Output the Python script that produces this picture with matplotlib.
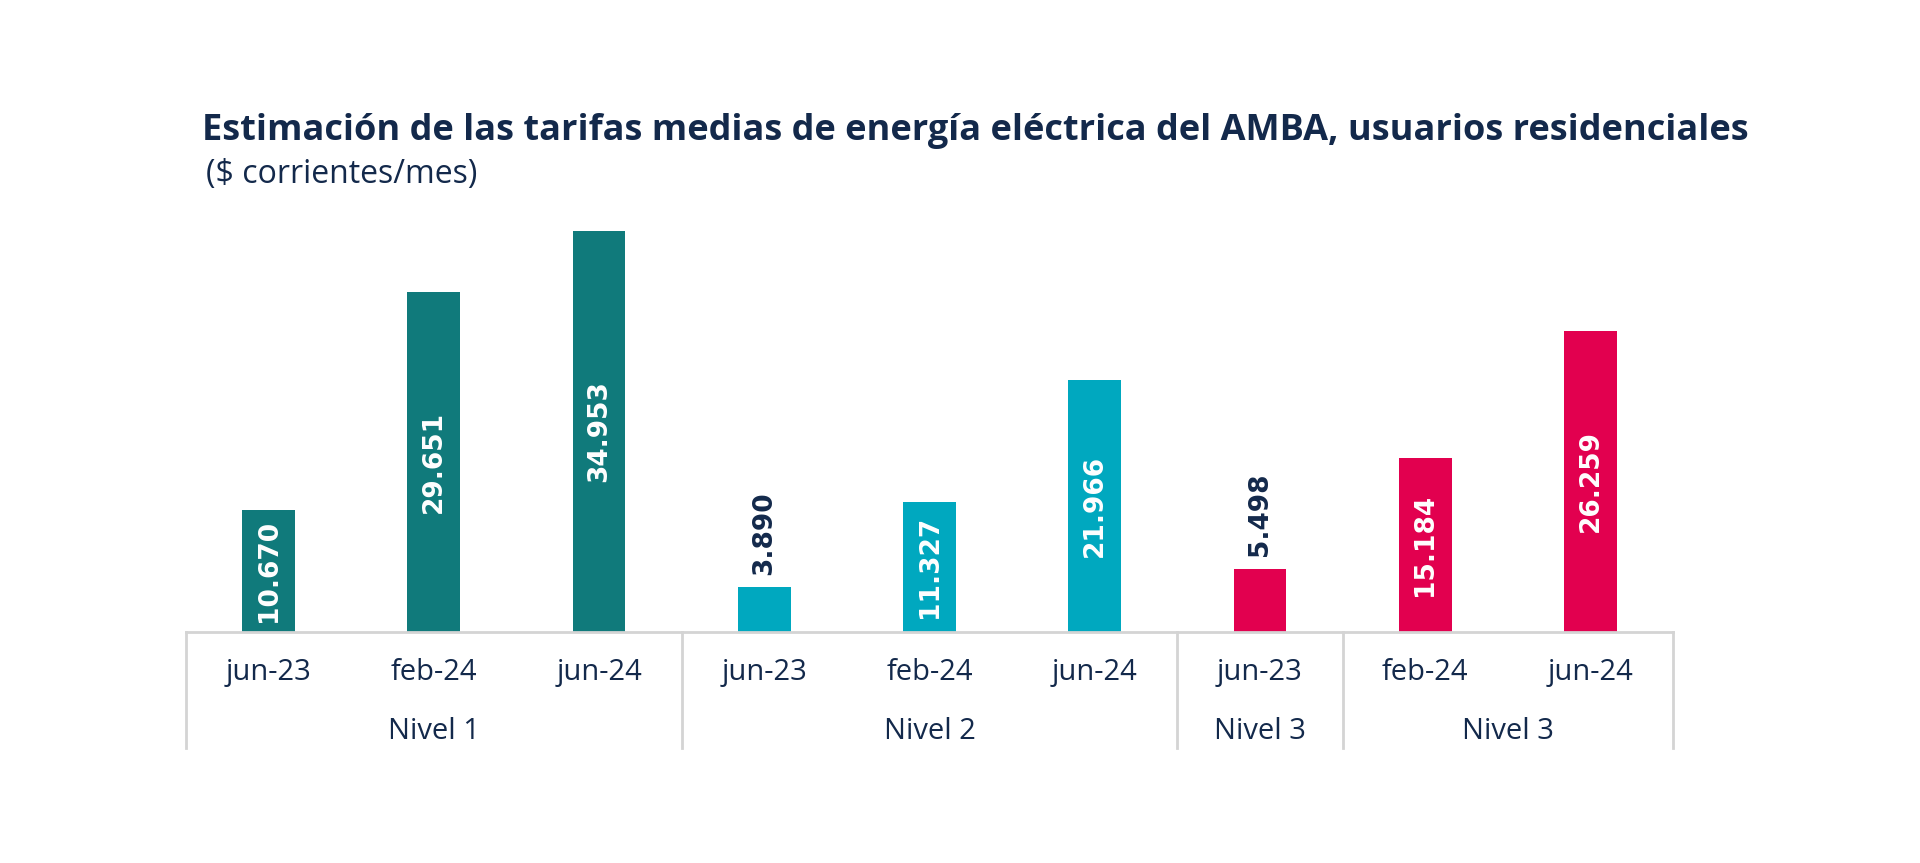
import matplotlib.pyplot as plt
import matplotlib.transforms as mtransforms

months = ["jun-23", "feb-24", "jun-24", "jun-23", "feb-24", "jun-24", "jun-23", "feb-24", "jun-24"]
values = [10670, 29651, 34953, 3890, 11327, 21966, 5498, 15184, 26259]
levels = ["Nivel 1", "Nivel 1", "Nivel 1", "Nivel 2", "Nivel 2", "Nivel 2", "Nivel 3", "Nivel 3", "Nivel 3"]
# group spans on the category axis (first index, last index, label)
groups = [(0, 2, "Nivel 1"), (3, 5, "Nivel 2"), (6, 6, "Nivel 3"), (7, 8, "Nivel 3")]

level_colors = {"Nivel 1": "#107a7b", "Nivel 2": "#00a8bf", "Nivel 3": "#e2004f"}
navy = "#13294b"
grid_gray = "#d4d4d4"

W, H = 1920, 863
fig = plt.figure(figsize=(W / 100, H / 100), dpi=100)
fig.patch.set_facecolor("white")

x0, x1, ybase, ytop = 186, 1673, 632, 196
ax = fig.add_axes([x0 / W, (H - ybase) / H, (x1 - x0) / W, (ybase - ytop) / H])
ax.set_xlim(-0.5, len(values) - 0.5)
ax.set_ylim(0, 38000)

xs = list(range(len(values)))
colors = [level_colors[l] for l in levels]
ax.bar(xs, values, width=0.32, color=colors, zorder=2)

for x, v in zip(xs, values):
    lab = f"{v:,}".replace(",", ".")
    if v < 8000:
        ax.annotate(lab, (x, v), xytext=(0, 9), textcoords="offset points",
                    rotation=90, ha="center", va="bottom", color=navy,
                    fontsize=19, fontweight="bold", family="DejaVu Sans")
    else:
        ax.text(x, v / 2, lab, rotation=90, ha="center", va="center",
                color="white", fontsize=19, fontweight="bold", family="DejaVu Sans")

for s in ["top", "right", "left"]:
    ax.spines[s].set_visible(False)
ax.spines["bottom"].set_color(grid_gray)
ax.spines["bottom"].set_linewidth(2)
ax.set_xticks([])
ax.set_yticks([])

trans = mtransforms.blended_transform_factory(ax.transData, ax.transAxes)
ax_h = ybase - ytop
y_line = -(748 - ybase) / ax_h
y_tick = -(672 - ybase) / ax_h
y_grp = -(731 - ybase) / ax_h

bounds = [-0.5] + [g[1] + 0.5 for g in groups]
for b in bounds:
    ax.plot([b, b], [0, y_line], color=grid_gray, lw=2, transform=trans, clip_on=False)

for x, m in zip(xs, months):
    ax.text(x, y_tick, m, transform=trans, ha="center", va="center",
            fontsize=21, color=navy, family="Open Sans")

for a, b, name in groups:
    ax.text((a + b) / 2, y_grp, name, transform=trans, ha="center", va="center",
            fontsize=21, color=navy, family="Open Sans")

fig.text(202 / W, 1 - 131 / H, "Estimación de las tarifas medias de energía eléctrica del AMBA, usuarios residenciales",
         ha="left", va="center", fontsize=26, fontweight="bold", color=navy, family="Open Sans")
fig.text(206 / W, 1 - 174 / H, "($ corrientes/mes)", ha="left", va="center",
         fontsize=23, color=navy, family="Open Sans")

fig.savefig("out.png", dpi=100, facecolor="white")
